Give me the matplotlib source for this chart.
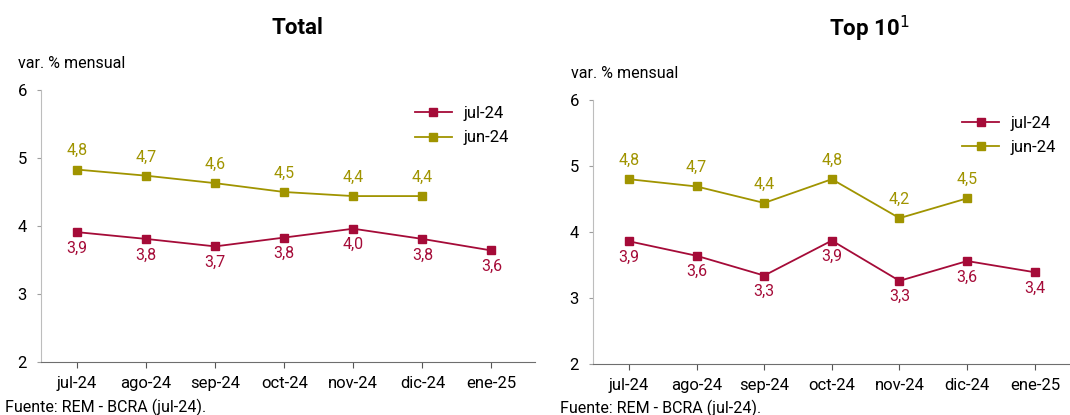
import matplotlib.pyplot as plt

plt.rcParams["font.family"] = ["Roboto", "DejaVu Sans"]

# data
months = ["jul-24", "ago-24", "sep-24", "oct-24", "nov-24", "dic-24", "ene-25"]

total_jul = [3.91, 3.81, 3.70, 3.83, 3.96, 3.81, 3.64]
total_jun = [4.83, 4.74, 4.63, 4.50, 4.44, 4.44]

top_jul = [3.86, 3.64, 3.34, 3.87, 3.26, 3.56, 3.39]
top_jun = [4.80, 4.69, 4.44, 4.80, 4.21, 4.51]

titles = ["Total", "Top 10$^{1}$"]
series_names = ["jul-24", "jun-24"]

RED = "#A50B38"
OLIVE = "#A09400"

fig = plt.figure(figsize=(10.7, 4.15), dpi=100)

# axes placed to match reference layout
ax1 = fig.add_axes([41 / 1070, 1 - 362 / 415, (535 - 41) / 1070, (362 - 90) / 415])
ax2 = fig.add_axes([593 / 1070, 1 - 364 / 415, (1070 - 593) / 1070, (364 - 100) / 415])


def fmt(v):
    return f"{v:.1f}".replace(".", ",")


def draw(ax, jul, jun, xlim, leg_anchor):
    x = list(range(len(months)))
    ax.plot(x[:len(jul)], jul, color=RED, lw=1.3, marker="s", ms=6, label=series_names[0])
    ax.plot(x[:len(jun)], jun, color=OLIVE, lw=1.3, marker="s", ms=6, label=series_names[1])

    for xi, v in zip(x, jul):
        ax.annotate(fmt(v), (xi, v), xytext=(0, -11.5), textcoords="offset points",
                    ha="center", va="center", color=RED, fontsize=11.5)
    for xi, v in zip(x, jun):
        ax.annotate(fmt(v), (xi, v), xytext=(0, 13.5), textcoords="offset points",
                    ha="center", va="center", color=OLIVE, fontsize=11.5)

    ax.set_ylim(2, 6)
    ax.set_yticks([2, 3, 4, 5, 6])
    ax.set_xlim(*xlim)
    ax.set_xticks(x)
    ax.set_xticklabels(months)

    ax.spines["top"].set_visible(False)
    ax.spines["right"].set_visible(False)
    ax.spines["left"].set_color("#BDBDBD")
    ax.spines["bottom"].set_color("#6E6E6E")
    ax.tick_params(axis="y", length=3, color="#9E9E9E", labelsize=12, pad=7)
    ax.tick_params(axis="x", length=4, color="#555555", labelsize=12, pad=6)

    ax.legend(loc="upper left", bbox_to_anchor=leg_anchor, frameon=False,
              fontsize=12, handlelength=2.2, handletextpad=0.7,
              labelspacing=0.55, borderpad=0, borderaxespad=0)


draw(ax1, total_jul, total_jun, (-0.52, 6.63), (0.757, 0.94))
draw(ax2, top_jul, top_jun, (-0.53, 6.52), (0.774, 0.94))

# titles
fig.text(297 / 1070, 1 - 28 / 415, titles[0], fontsize=16, fontweight="bold",
         ha="center", va="center")
fig.text(869 / 1070, 1 - 29 / 415, titles[1], fontsize=16, fontweight="bold",
         ha="center", va="center")

fig.text(18 / 1070, 1 - 63 / 415, "var. % mensual", fontsize=11.5, va="center", ha="left")
fig.text(571 / 1070, 1 - 74 / 415, "var. % mensual", fontsize=11.5, va="center", ha="left")

fig.text(5 / 1070, 1 - 407 / 415, "Fuente: REM - BCRA (jul-24).", fontsize=11.5, va="center")
fig.text(560 / 1070, 1 - 408 / 415, "Fuente: REM - BCRA (jul-24).", fontsize=11.5, va="center")

fig.savefig("out.png", dpi=100)
